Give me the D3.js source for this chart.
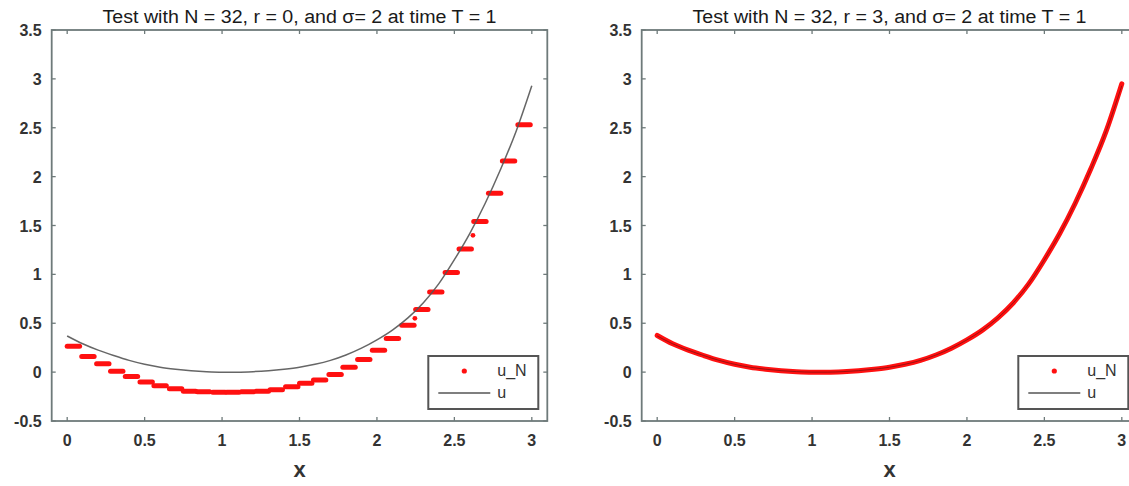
<!DOCTYPE html>
<html>
<head>
<meta charset="utf-8">
<script src="https://cdn.jsdelivr.net/npm/d3@7"></script>
<style>
  body { margin: 0; background: #fff; }
  svg { display: block; }
  text { font-family: "Liberation Sans", Arial, sans-serif; }
</style>
</head>
<body>
<div id="chart"></div>
<script>
var width = 1129, height = 486;

// tick values
var xTicks = [0, 0.5, 1, 1.5, 2, 2.5, 3];
var yTicks = [-0.5, 0, 0.5, 1, 1.5, 2, 2.5, 3, 3.5];

// exact solution u
var uX = [0, 0.1, 0.2, 0.3, 0.4, 0.5, 0.6, 0.7, 0.8, 0.9, 1.0,
          1.1, 1.2, 1.3, 1.4, 1.5, 1.6, 1.7, 1.8, 1.9, 2.0,
          2.1, 2.2, 2.3, 2.4, 2.5, 2.6, 2.7, 2.8, 2.9, 3.0];
var uExact = [0.37, 0.29, 0.225, 0.17, 0.12, 0.08, 0.05, 0.03, 0.015, 0.005, 0.0,
              0.0, 0.005, 0.015, 0.03, 0.05, 0.08, 0.12, 0.175, 0.245, 0.33,
              0.43, 0.555, 0.71, 0.905, 1.15, 1.42, 1.73, 2.08, 2.47, 2.93];

// left panel (r = 0): piecewise constant u_N, one level per cell
var stepX = [0, 0.094, 0.19, 0.28, 0.375, 0.47, 0.56, 0.66, 0.75, 0.84, 0.94,
             1.03, 1.125, 1.22, 1.31, 1.41, 1.5, 1.59, 1.69, 1.78, 1.875,
             1.97, 2.06, 2.16, 2.25, 2.34, 2.44, 2.53, 2.625, 2.72, 2.81, 2.91];
var stepU = [0.265, 0.16, 0.086, 0.01, -0.045, -0.10, -0.14, -0.17, -0.195, -0.2, -0.205,
             -0.205, -0.2, -0.195, -0.18, -0.15, -0.115, -0.08, -0.024, 0.05, 0.128,
             0.224, 0.345, 0.48, 0.64, 0.82, 1.02, 1.26, 1.54, 1.83, 2.16, 2.53];
var stepLen = 0.08;
// a couple of stray points between levels
var strayX = [2.245, 2.62];
var strayU = [0.55, 1.40];

// right panel (r = 3): u_N sits on top of u
var uNRight = [0.375, 0.29, 0.225, 0.17, 0.12, 0.08, 0.05, 0.03, 0.015, 0.005, 0.0,
               0.0, 0.005, 0.015, 0.03, 0.05, 0.08, 0.12, 0.175, 0.245, 0.33,
               0.43, 0.555, 0.71, 0.905, 1.15, 1.42, 1.73, 2.08, 2.47, 2.95];

var titles = ['Test with N = 32, r = 0, and \u03c3= 2 at time T = 1',
              'Test with N = 32, r = 3, and \u03c3= 2 at time T = 1'];

var axisColor = '#6e7a7a', red = '#ff1010', lineColor = '#555';

var svg = d3.select('#chart')
    .append('svg')
    .attr('width', width)
    .attr('height', height);

function drawPanel(left, right, title, drawData) {
    var top = 30, bottom = 421;

    var x = d3.scaleLinear().domain([-0.1, 3.1]).range([left, right]);
    var y = d3.scaleLinear().domain([-0.5, 3.5]).range([bottom, top]);

    var g = svg.append('g');

    // title
    g.append('text')
        .attr('x', (left + right) / 2)
        .attr('y', 23)
        .attr('text-anchor', 'middle')
        .attr('textLength', 394)
        .attr('lengthAdjust', 'spacingAndGlyphs')
        .style('font-size', '18px')
        .style('fill', '#1a1a1a')
        .text(title);

    // data first, box and ticks go over it
    drawData(g, x, y);

    // box
    g.append('rect')
        .attr('x', left)
        .attr('y', top)
        .attr('width', right - left)
        .attr('height', bottom - top)
        .attr('fill', 'none')
        .attr('stroke', axisColor)
        .attr('stroke-width', 1.8);

    // ticks on all four sides, pointing in
    g.selectAll('.xt-b').data(xTicks).enter()
        .append('line')
        .attr('x1', function (d) { return x(d); })
        .attr('x2', function (d) { return x(d); })
        .attr('y1', bottom).attr('y2', bottom - 4)
        .attr('stroke', axisColor).attr('stroke-width', 1.3);
    g.selectAll('.xt-t').data(xTicks).enter()
        .append('line')
        .attr('x1', function (d) { return x(d); })
        .attr('x2', function (d) { return x(d); })
        .attr('y1', top).attr('y2', top + 4)
        .attr('stroke', axisColor).attr('stroke-width', 1.3);
    g.selectAll('.yt-l').data(yTicks).enter()
        .append('line')
        .attr('y1', function (d) { return y(d); })
        .attr('y2', function (d) { return y(d); })
        .attr('x1', left).attr('x2', left + 4)
        .attr('stroke', axisColor).attr('stroke-width', 1.3);
    g.selectAll('.yt-r').data(yTicks).enter()
        .append('line')
        .attr('y1', function (d) { return y(d); })
        .attr('y2', function (d) { return y(d); })
        .attr('x1', right).attr('x2', right - 4)
        .attr('stroke', axisColor).attr('stroke-width', 1.3);

    // tick labels
    g.selectAll('.xl').data(xTicks).enter()
        .append('text')
        .attr('x', function (d) { return x(d); })
        .attr('y', 446)
        .attr('text-anchor', 'middle')
        .style('font-size', '16px')
        .style('font-weight', 'bold')
        .style('fill', '#333')
        .text(function (d) { return d; });
    g.selectAll('.yl').data(yTicks).enter()
        .append('text')
        .attr('x', left - 10)
        .attr('y', function (d) { return y(d) + 6; })
        .attr('text-anchor', 'end')
        .style('font-size', '16px')
        .style('font-weight', 'bold')
        .style('fill', '#333')
        .text(function (d) { return d; });

    // x label
    g.append('text')
        .attr('x', (left + right) / 2)
        .attr('y', 477)
        .attr('text-anchor', 'middle')
        .style('font-size', '22px')
        .style('font-weight', 'bold')
        .style('fill', '#333')
        .text('x');

    // legend
    var lx = right - 119, ly = bottom - 65;
    var leg = g.append('g').attr('transform', 'translate(' + lx + ',' + ly + ')');
    leg.append('rect')
        .attr('width', 110).attr('height', 53)
        .attr('fill', '#fff')
        .attr('stroke', '#555').attr('stroke-width', 2);
    leg.append('circle')
        .attr('cx', 36).attr('cy', 15).attr('r', 2.6)
        .attr('fill', red);
    leg.append('text')
        .attr('x', 69).attr('y', 20)
        .style('font-size', '16px').style('fill', '#333')
        .text('u_N');
    leg.append('line')
        .attr('x1', 10).attr('x2', 62)
        .attr('y1', 37).attr('y2', 37)
        .attr('stroke', lineColor).attr('stroke-width', 1.5);
    leg.append('text')
        .attr('x', 69).attr('y', 42)
        .style('font-size', '16px').style('fill', '#333')
        .text('u');
}

var uLine = d3.line()
    .curve(d3.curveMonotoneX);

// left panel
drawPanel(51.7, 547.3, titles[0], function (g, x, y) {
    g.selectAll('.step').data(stepX).enter()
        .append('line')
        .attr('x1', function (d) { return x(d); })
        .attr('x2', function (d) { return x(d + stepLen); })
        .attr('y1', function (d, i) { return y(stepU[i]); })
        .attr('y2', function (d, i) { return y(stepU[i]); })
        .attr('stroke', red)
        .attr('stroke-width', 5)
        .attr('stroke-linecap', 'round');
    g.selectAll('.stray').data(strayX).enter()
        .append('circle')
        .attr('cx', function (d) { return x(d); })
        .attr('cy', function (d, i) { return y(strayU[i]); })
        .attr('r', 2.4)
        .attr('fill', red);
    uLine.x(function (d) { return x(d); })
        .y(function (d, i) { return y(uExact[i]); });
    g.append('path')
        .attr('d', uLine(uX))
        .attr('fill', 'none')
        .attr('stroke', lineColor)
        .attr('stroke-width', 1.5)
        .attr('opacity', 0.9);
});

// right panel, box runs past the picture edge
drawPanel(641.7, 1137.3, titles[1], function (g, x, y) {
    uLine.x(function (d) { return x(d); })
        .y(function (d, i) { return y(uNRight[i]); });
    g.append('path')
        .attr('d', uLine(uX))
        .attr('fill', 'none')
        .attr('stroke', red)
        .attr('stroke-width', 5)
        .attr('stroke-linecap', 'round');
    uLine.y(function (d, i) { return y(uExact[i]); });
    g.append('path')
        .attr('d', uLine(uX))
        .attr('fill', 'none')
        .attr('stroke', '#5a1010')
        .attr('stroke-width', 1)
        .attr('opacity', 0.6);
});
</script>
</body>
</html>
